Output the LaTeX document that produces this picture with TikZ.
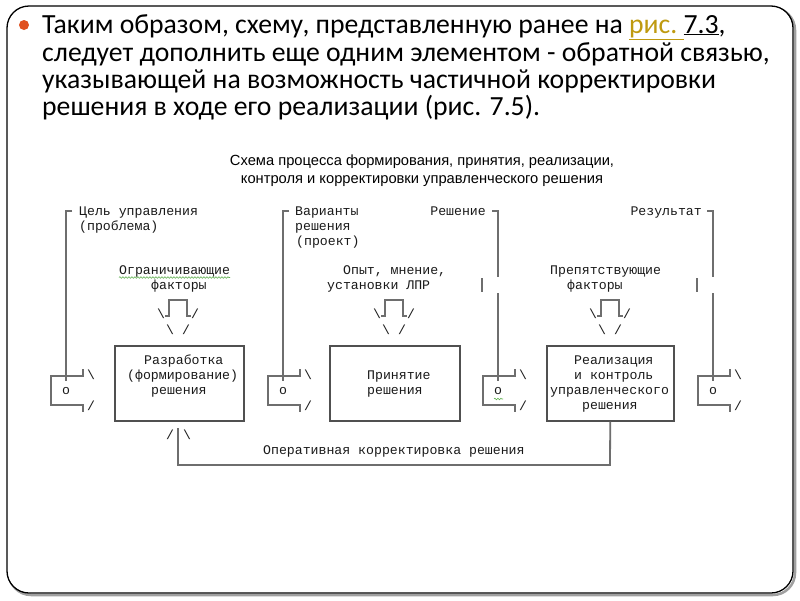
\documentclass[tikz,border=0pt]{standalone}
\usepackage{fontspec}
\setmainfont{Carlito}
\newfontfamily\monof{Liberation Mono}
\newfontfamily\sansf{Liberation Sans}
\usetikzlibrary{decorations.pathmorphing}
\definecolor{lngc}{HTML}{6E6E6E}
\definecolor{boxc}{HTML}{505050}
\definecolor{txtc}{HTML}{1A1A1A}
\definecolor{goldc}{HTML}{BF9A10}
\definecolor{bulletc}{HTML}{E0501E}
\definecolor{shadowc}{HTML}{A0A0A0}
\definecolor{wavyc}{HTML}{5FAF4F}
\begin{document}
\begin{tikzpicture}[x=1pt,y=-1pt,
  mono/.style={font=\monof\fontsize{13.2}{15}\selectfont, inner sep=0pt, text=txtc, anchor=base west},
  wire/.style={draw=lngc, line width=1.8pt},
  boxs/.style={draw=boxc, line width=1.5pt, fill=white, inner sep=0pt, anchor=north west},
  body/.style={font=\fontsize{27.7}{30}\selectfont, inner sep=0pt, anchor=base west, text=black},
  ttl/.style={font=\sansf\fontsize{14.7}{17}\selectfont, inner sep=0pt, anchor=base, text=black},
  wavy/.style={draw=wavyc, line width=0.6pt, decorate, decoration={snake, amplitude=0.8pt, segment length=3pt}}
]
\useasboundingbox (0,0) rectangle (800,600);
% slide frame
\draw[draw=shadowc, line width=2.5pt, rounded corners=22] (9,8) rectangle (795,595);
\draw[fill=white, line width=1.3pt, rounded corners=22] (7,6) rectangle (793,593);
\fill[bulletc] (24,25) circle (5);
% body text
\node[body] (l1) at (42,33) {Таким образом, схему, представленную ранее на \textcolor{goldc}{\underline{рис.\ }}\underline{7.3},};
\node[body] (l2) at (42,61) {следует дополнить еще одним элементом - обратной связью,};
\node[body] (l3) at (42,88.5) {указывающей на возможность частичной корректировки};
\node[body] (l4) at (42,115.5) {решения в ходе его реализации (рис. 7.5).};
% title
\node[ttl] (t1) at (422,165) {Схема процесса формирования, принятия, реализации,};
\node[ttl] (t2) at (422,183) {контроля и корректировки управленческого решения};
% top labels
\node[mono] (a1) at (79,215) {Цель управления};
\node[mono] (a2) at (79,230) {(проблема)};
\node[mono] (v1) at (295,215) {Варианты};
\node[mono] (v2) at (295,230) {решения};
\node[mono] (v3) at (296,245) {(проект)};
\node[mono, anchor=base east] (r1) at (486,215) {Решение};
\node[mono, anchor=base east] (r2) at (702,215) {Результат};
% factors
\node[mono] (f1a) at (119,274) {Ограничивающие};
\node[mono] (f1b) at (151,289) {факторы};
\node[mono] (f2a) at (343,274) {Опыт, мнение,};
\node[mono] (f2b) at (327,289) {установки ЛПР};
\node[mono] (f3a) at (550,274) {Препятствующие};
\node[mono] (f3b) at (567,289) {факторы};
\draw[wavy] (f1a.base west) ++(0,3.5) -- ++(111,0);
% factor arrows
\foreach \c/\k in {178/1,394/2,610/3}{
  \draw[wire, line width=1.5pt] (\c-13,316) -- (\c-9,316) -- (\c-9,300) -- (\c+9,300) -- (\c+9,316) -- (\c+13,316);
  \node[mono, anchor=base] (fa\k) at (\c-17,318) {\textbackslash};
  \node[mono, anchor=base] (fb\k) at (\c+17,318) {/};
  \node[mono, anchor=base] (fc\k) at (\c-8,334) {\textbackslash};
  \node[mono, anchor=base] (fd\k) at (\c+8,334) {/};
}
% boxes
\node[boxs, minimum width=129, minimum height=75] (b1) at (114,345) {};
\node[boxs, minimum width=130, minimum height=75] (b2) at (329,345) {};
\node[boxs, minimum width=127, minimum height=75] (b3) at (546,345) {};
\node[mono] (b1a) at (144,364) {Разработка};
\node[mono] (b1b) at (127,379) {(формирование)};
\node[mono] (b1c) at (151,394) {решения};
\node[mono] (b2a) at (367,379) {Принятие};
\node[mono] (b2b) at (367,394) {решения};
\node[mono] (b3a) at (574,364) {Реализация};
\node[mono] (b3b) at (574,379) {и контроль};
\node[mono] (b3c) at (550,394) {управленческого};
\node[mono] (b3d) at (582,409) {решения};
% switches
\foreach \L/\n in {66/1,283/2,498/3,713/4}{
  \draw[wire] (\L+17,369) -- (\L+17,376) -- (\L-15,376) -- (\L-15,405) -- (\L+17,405) -- (\L+17,412);
  \node[mono, anchor=base] (o\n) at (\L,394) {o};
  \coordinate (e\n) at (\L,381);
  \node[mono, anchor=base] (s\n) at (\L+25,379) {\textbackslash};
  \node[mono, anchor=base] (z\n) at (\L+25,410) {/};
}
\draw[wavy] (494,399) -- (503,399);
% brackets
\draw[wire] (72,211) -- (66,211) -- (e1);
\draw[wire] (289,211) -- (283,211) -- (e2);
\draw[wire] (492,211) -- (498,211) -- (498,277);
\draw[wire] (498,293) -- (e3);
\draw[wire] (707,211) -- (713,211) -- (713,277);
\draw[wire] (713,293) -- (e4);
\draw[wire] (482,278) -- (482,292);
\draw[wire] (697,278) -- (697,292);
% feedback
\coordinate (fbs) at (178,428);
\draw[wire] (fbs) |- (610,465) -- (b3.south);
\node[mono, anchor=base] (fl) at (170,439) {/};
\node[mono, anchor=base] (fr) at (187,439) {\textbackslash};
\node[mono] (fbt) at (263,454) {Оперативная корректировка решения};
\end{tikzpicture}
\end{document}
